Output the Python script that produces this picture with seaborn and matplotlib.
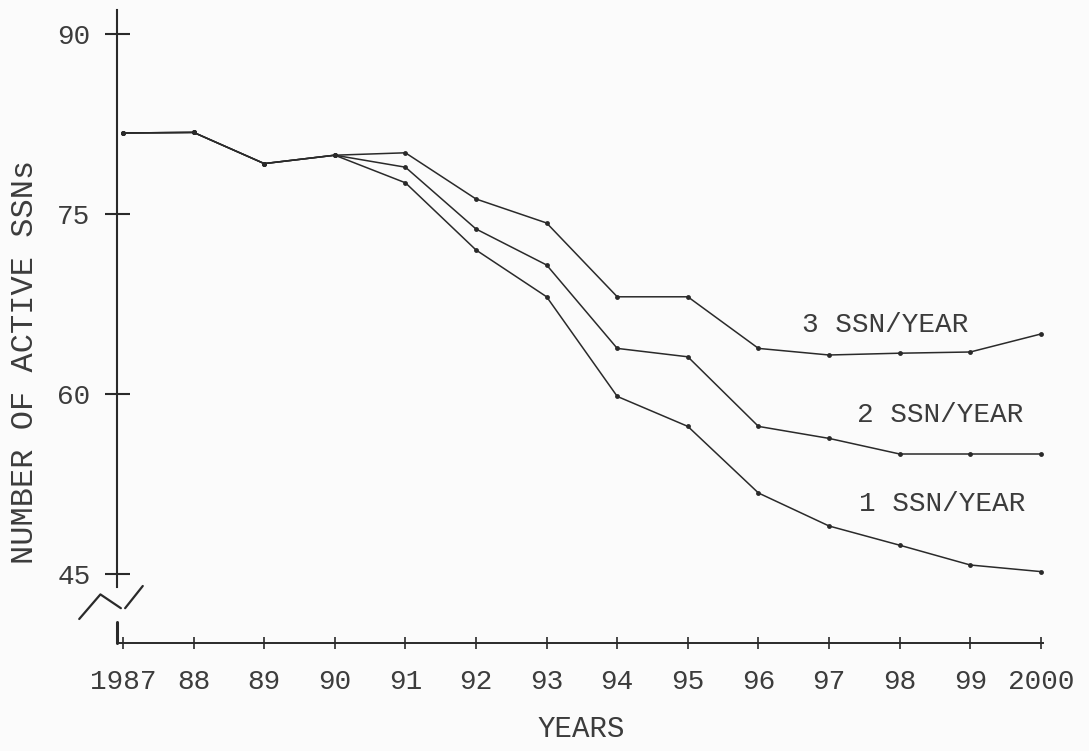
import pandas as pd
import numpy as np
import matplotlib
matplotlib.use("Agg")
import matplotlib.pyplot as plt
import seaborn as sns

years = [1987, 1988, 1989, 1990, 1991, 1992, 1993, 1994, 1995, 1996, 1997, 1998, 1999, 2000]
ssn_3 = [81.75, 81.8, 79.2, 79.9, 80.1, 76.25, 74.25, 68.1, 68.1, 63.8, 63.25, 63.4, 63.5, 65.0]
ssn_2 = [81.75, 81.8, 79.2, 79.9, 78.9, 73.75, 70.75, 63.8, 63.1, 57.3, 56.3, 55.0, 55.0, 55.0]
ssn_1 = [81.75, 81.8, 79.2, 79.9, 77.6, 72.0, 68.1, 59.8, 57.3, 51.75, 49.0, 47.4, 45.75, 45.2]
year_labels = ["1987", "88", "89", "90", "91", "92", "93", "94", "95", "96", "97", "98", "99", "2000"]
y_ticks = [45, 60, 75, 90]

df = pd.DataFrame({"year": years * 3,
                   "ssns": ssn_3 + ssn_2 + ssn_1,
                   "rate": ["3 SSN/YEAR"] * 14 + ["2 SSN/YEAR"] * 14 + ["1 SSN/YEAR"] * 14})

sns.set_style("white")
plt.rcParams['font.family'] = ['Liberation Mono', 'DejaVu Sans Mono']
ink = "#2a2a2a"
txt = "#3c3c3c"

fig = plt.figure(figsize=(10.89, 7.51), dpi=100)
fig.patch.set_facecolor("#fbfbfb")
ax = fig.add_axes([117 / 1089, 1 - 643 / 751, (1043 - 117) / 1089, (643 - 10) / 751])
ax.set_facecolor("#fbfbfb")

sns.lineplot(data=df, x="year", y="ssns", hue="rate", palette=[ink, ink, ink],
             marker="o", markersize=3.5, markeredgewidth=0, linewidth=1.1,
             legend=False, ax=ax, sort=False)

ax.set_xlim(1986.915, 2000.03)
ax.set_ylim(39.25, 92)

ax.set_xticks(years)
ax.set_xticklabels(year_labels)
ax.set_yticks(y_ticks)
ax.tick_params(axis="x", bottom=True, direction="inout", length=9, width=1.2, color=ink,
               labelcolor=txt, pad=14, labelsize=20)
ax.tick_params(axis="y", left=True, direction="inout", length=18, width=1.5, color=ink,
               labelcolor=txt, pad=10, labelsize=20)

for s in ["top", "right"]:
    ax.spines[s].set_visible(False)
ax.spines["left"].set_color(ink)
ax.spines["left"].set_linewidth(1.5)
ax.spines["left"].set_bounds(43.9, 92)
ax.spines["bottom"].set_color(ink)
ax.spines["bottom"].set_linewidth(1.4)

# axis break
ax.plot([1987 - 0.085, 1987 - 0.085], [39.25, 41.0], color=ink, lw=2.2, clip_on=False)
ax.plot([1986.38, 1986.68, 1986.97], [41.25, 43.3, 42.15], color=ink, lw=1.6, clip_on=False)
ax.plot([1987.03, 1987.28], [42.15, 44.0], color=ink, lw=1.6, clip_on=False)

ax.set_xlabel("YEARS", fontsize=21, color=txt)
ax.xaxis.set_label_coords((581 - 117) / 926, -(715 - 643) / 633)
ax.set_ylabel("NUMBER OF ACTIVE SSNs", fontsize=23, color=txt)
ax.yaxis.set_label_coords((40 - 117) / 926, (643 - 362) / 633)

ax.text(1997.8, 65.75, "3 SSN/YEAR", fontsize=20, color=txt, ha="center", va="center")
ax.text(1998.57, 58.25, "2 SSN/YEAR", fontsize=20, color=txt, ha="center", va="center")
ax.text(1998.6, 50.8, "1 SSN/YEAR", fontsize=20, color=txt, ha="center", va="center")

fig.savefig("out.png", dpi=100, facecolor=fig.get_facecolor())
